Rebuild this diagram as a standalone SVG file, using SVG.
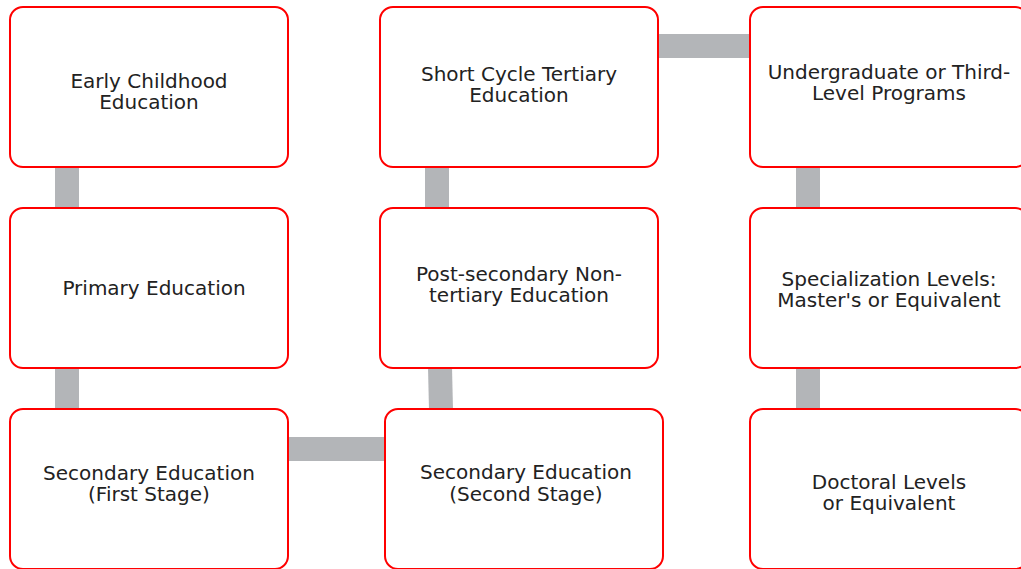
<svg xmlns="http://www.w3.org/2000/svg" width="1021" height="569" viewBox="0 0 1021 569">
  <style>
    .node rect { fill: #ffffff; stroke: #ff0000; stroke-width: 2; }
    .node text { font-family: "DejaVu Sans", sans-serif; font-size: 20px; fill: #222222; text-anchor: middle; }
    .link { stroke: #b3b5b8; stroke-width: 24; fill: none; stroke-linecap: butt; }
  </style>
  <rect width="1021" height="569" fill="#ffffff"/>

  <!-- connectors -->
  <g id="connectors">
    <line class="link" x1="67" y1="166" x2="67" y2="209"/>
    <line class="link" x1="67" y1="367" x2="67" y2="410"/>
    <line class="link" x1="287" y1="449" x2="386" y2="449"/>
    <line class="link" x1="440" y1="367" x2="441" y2="410"/>
    <line class="link" x1="437" y1="166" x2="437" y2="209"/>
    <line class="link" x1="657" y1="46" x2="751" y2="46"/>
    <line class="link" x1="808" y1="166" x2="808" y2="209"/>
    <line class="link" x1="808" y1="367" x2="808" y2="410"/>
  </g>

  <!-- column 1 -->
  <g id="early-childhood" class="node">
    <rect x="10" y="7" width="278" height="160" rx="13"/>
    <text x="149" y="88">Early Childhood</text>
    <text x="149" y="109">Education</text>
  </g>
  <g id="primary" class="node">
    <rect x="10" y="208" width="278" height="160" rx="13"/>
    <text x="154" y="295">Primary Education</text>
  </g>
  <g id="secondary-first" class="node">
    <rect x="10" y="409" width="278" height="160" rx="13"/>
    <text x="149" y="480">Secondary Education</text>
    <text x="149" y="501">(First Stage)</text>
  </g>

  <!-- column 2 -->
  <g id="short-cycle-tertiary" class="node">
    <rect x="380" y="7" width="278" height="160" rx="13"/>
    <text x="519" y="81">Short Cycle Tertiary</text>
    <text x="519" y="102">Education</text>
  </g>
  <g id="post-secondary" class="node">
    <rect x="380" y="208" width="278" height="160" rx="13"/>
    <text x="519" y="281">Post-secondary Non-</text>
    <text x="519" y="302">tertiary Education</text>
  </g>
  <g id="secondary-second" class="node">
    <rect x="385" y="409" width="278" height="160" rx="13"/>
    <text x="526" y="479">Secondary Education</text>
    <text x="526" y="501">(Second Stage)</text>
  </g>

  <!-- column 3 -->
  <g id="undergraduate" class="node">
    <rect x="750" y="7" width="278" height="160" rx="13"/>
    <text x="889" y="79">Undergraduate or Third-</text>
    <text x="889" y="100">Level Programs</text>
  </g>
  <g id="specialization" class="node">
    <rect x="750" y="208" width="278" height="160" rx="13"/>
    <text x="889" y="286">Specialization Levels:</text>
    <text x="889" y="307">Master's or Equivalent</text>
  </g>
  <g id="doctoral" class="node">
    <rect x="750" y="409" width="278" height="160" rx="13"/>
    <text x="889" y="489">Doctoral Levels</text>
    <text x="889" y="510">or Equivalent</text>
  </g>
</svg>
